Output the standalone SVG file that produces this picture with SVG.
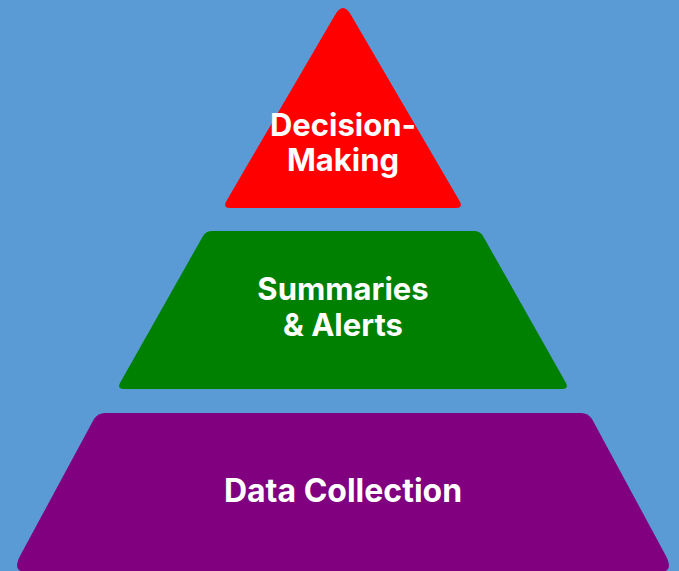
<svg xmlns="http://www.w3.org/2000/svg" width="679" height="571" viewBox="0 0 679 571">
<style>
.lbl{font-family:Inter,"Open Sans","Liberation Sans",sans-serif;font-weight:700;font-size:31px;fill:#ffffff;text-anchor:middle}
</style>
<rect width="679" height="571" fill="#5B9BD5"/>
<g id="decision-making">
<path d="M335,15 Q343,1 351,15 L459,200 Q464,208 456,208 L230,208 Q222,208 227,200 Z" fill="#FF0000"/>
<text class="lbl" x="343" y="136">Decision-</text>
<text class="lbl" x="343" y="171">Making</text>
</g>
<g id="summaries-alerts">
<path d="M212,231 L474,231 Q480,231 483,236 L566,383 Q569,389 562,389 L124,389 Q117,389 120,383 L203,236 Q206,231 212,231 Z" fill="#008000"/>
<text class="lbl" x="343" y="300">Summaries</text>
<text class="lbl" x="343" y="336">&amp; Alerts</text>
</g>
<g id="data-collection">
<path d="M105,413 L581,413 Q588,413 592,419 L666,556 Q674,572 660,572 L26,572 Q12,572 20,556 L94,419 Q98,413 105,413 Z" fill="#800080"/>
<text class="lbl" x="343" y="502" style="font-size:32px">Data Collection</text>
</g>
<g id="connectors"/>
</svg>
